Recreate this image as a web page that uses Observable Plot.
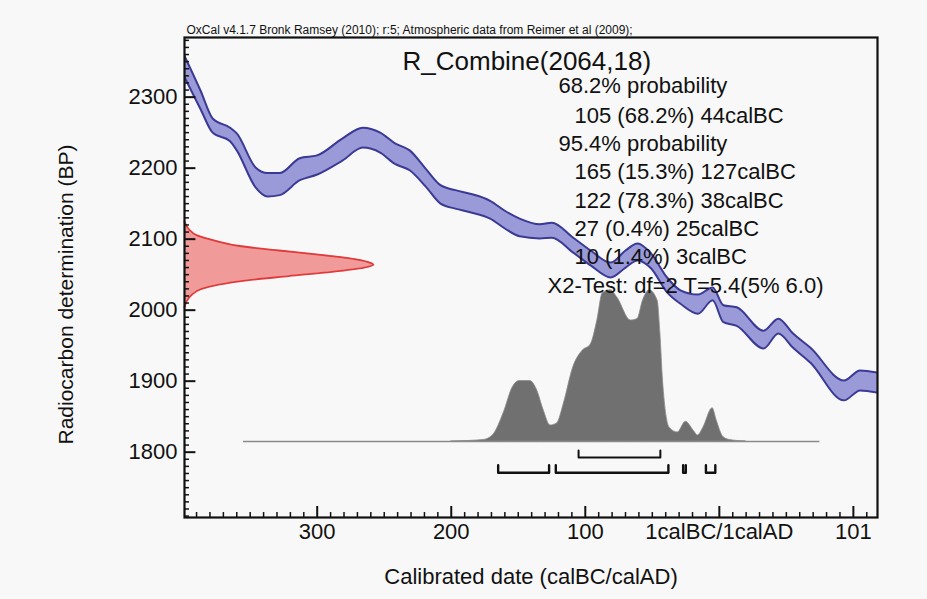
<!DOCTYPE html>
<html><head><meta charset="utf-8">
<script src="https://cdn.jsdelivr.net/npm/d3@7"></script>
<script src="https://cdn.jsdelivr.net/npm/@observablehq/plot@0.6"></script>
<style>
html,body{margin:0;padding:0;background:#f8f8f8;}
#chart svg{display:block;}
</style></head><body><div id="chart"></div>
<script>
// Calibration curve (IntCal09 band), year: negative = BC
const curveYears = [-399,-387,-378,-365,-360,-346,-337,-328,-313,-300,-281,-266,-253,-242,-231,-219,-208,-197,-186,-171,-160,-149,-134,-125,-109,-96,-81,-70,-61,-51,-39,-29,-16,-5,3,13,33,44,55,68,93,105,118];
const curveUpper = [2358,2309,2270,2257,2249,2201,2193,2193,2214,2218,2242,2257,2250,2235,2225,2199,2176,2169,2164,2154,2140,2129,2121,2123,2102,2084,2067,2084,2094,2080,2046,2028,2022,2032,2007,2004,1971,1988,1967,1947,1901,1915,1912];
const curveLower = [2328,2283,2250,2238,2225,2173,2160,2162,2183,2191,2211,2229,2222,2206,2197,2174,2150,2143,2138,2129,2115,2104,2101,2102,2081,2063,2046,2060,2070,2059,2025,2009,1995,2014,1983,1978,1946,1967,1947,1926,1873,1887,1884];

// Radiocarbon likelihood R_Combine(2064,18), relative density
const likeBP = [2125,2115,2105,2098,2090,2084,2078,2072,2066,2064,2060,2054,2048,2042,2036,2030,2022,2012,2004];
const likeDensity = [0,0.02,0.07,0.16,0.3,0.5,0.72,0.9,0.99,1.0,0.95,0.78,0.55,0.33,0.18,0.09,0.04,0.01,0];

// Calibrated posterior, relative probability
const postYears = [-200,-176,-169,-161,-154,-149,-141,-136,-131,-126,-121,-116,-109,-102,-96,-91,-87,-81,-76,-66,-61,-57,-52,-46,-44,-42,-37,-31,-25,-19,-16,-12,-5,-2,3,8,20];
const postProb = [0,0.01,0.04,0.185,0.36,0.40,0.40,0.34,0.205,0.106,0.12,0.25,0.49,0.60,0.64,0.80,0.98,1.0,0.95,0.80,0.81,0.93,1.0,0.93,0.72,0.40,0.09,0.06,0.13,0.07,0.04,0.09,0.22,0.14,0.03,0.01,0];

// Ranges
const range68 = [[-105,-44]];
const range95 = [[-165,-127],[-122,-38],[-27,-25],[-10,-3]];

// Axis ticks
const yTickValues = [1800,1900,2000,2100,2200,2300];
const xTickValues = [-300,-200,-100,0,100];
const xTickLabels = ["300","200","100","1calBC/1calAD","101"];

// Texts
const headerText = "OxCal v4.1.7 Bronk Ramsey (2010); r:5; Atmospheric data from Reimer et al (2009);";
const titleText = "R_Combine(2064,18)";
const resultLines = ["68.2% probability","105 (68.2%) 44calBC","95.4% probability","165 (15.3%) 127calBC","122 (78.3%) 38calBC","27 (0.4%) 25calBC","10 (1.4%) 3calBC","X2-Test: df=2 T=5.4(5% 6.0)"];
const yLabel = "Radiocarbon determination (BP)";
const xLabel = "Calibrated date (calBC/calAD)";

// ---- layout ----
const X0 = -399, X1 = 118, Y0 = 1708, Y1 = 2384;
const FONT = "'Liberation Sans', Arial, Helvetica, sans-serif";
const curve = curveYears.map((y,i)=>({year:y, hi:curveUpper[i], lo:curveLower[i]}));
const like = likeBP.map((b,i)=>({bp:b, p:likeDensity[i]}));
const post = postYears.map((y,i)=>({year:y, p:postProb[i]}));
const LIKE_W = 141;   // years for full density
const POST_BASE = 1815, POST_H = 213;
const bracketPath = (ranges, top, bot) => ranges.flatMap((r,i)=>[
  {x:r[0], y:top, z:i},{x:r[0], y:bot, z:i},{x:r[1], y:bot, z:i},{x:r[1], y:top, z:i}]);
const b68 = bracketPath(range68, 1802.5, 1792.5);
const b95 = bracketPath(range95, 1781.5, 1771);
const yMinor = d3.range(1710, 2384, 10).filter(v=>v%100!==0);
const xMinor = d3.range(-390, 118, 10).filter(v=>v%100!==0);

const resX = [558,574,558,574,574,574,574,547];
const resY = [92,122,150,178,207,235,263,292];
const resData = resultLines.map((t,i)=>({t, dx:resX[i]-184, dy:resY[i]-37}));

const chart = Plot.plot({
  width: 927, height: 599,
  marginLeft: 184, marginRight: 50, marginTop: 37, marginBottom: 82,
  style: {fontFamily: FONT, background: "#f8f8f8", overflow: "visible"},
  x: {domain: [X0, X1], axis: null},
  y: {domain: [Y0, Y1], axis: null},
  marks: [
    // calibration band
    Plot.areaY(curve, {x:"year", y1:"lo", y2:"hi", fill:"#9a9ad8", curve:"monotone-x", clip:true}),
    Plot.lineY(curve, {x:"year", y:"hi", stroke:"#3a3a96", strokeWidth:2, curve:"monotone-x", clip:true}),
    Plot.lineY(curve, {x:"year", y:"lo", stroke:"#3a3a96", strokeWidth:2, curve:"monotone-x", clip:true}),
    // likelihood
    Plot.areaX(like, {y:"bp", x1:X0, x2:d=>X0 + d.p*LIKE_W, fill:"#f09a9a", curve:"monotone-y"}),
    Plot.lineX(like, {y:"bp", x:d=>X0 + d.p*LIKE_W, stroke:"#e03a3a", strokeWidth:1.8, curve:"monotone-y"}),
    // posterior
    Plot.ruleY([POST_BASE], {x1:-355, x2:75, stroke:"#8a8a8a", strokeWidth:1.5}),
    Plot.areaY(post, {x:"year", y1:POST_BASE, y2:d=>POST_BASE + d.p*POST_H, fill:"#707070", stroke:"#8a8a8a", strokeWidth:0.8, curve:"monotone-x"}),
    // ranges
    Plot.line(b68, {x:"x", y:"y", z:"z", stroke:"#111", strokeWidth:2}),
    Plot.line(b95, {x:"x", y:"y", z:"z", stroke:"#111", strokeWidth:2.4}),
    // ticks
    Plot.ruleY(yMinor, {y:d=>d, x1:X0, x2:X0+3.7, stroke:"#111", strokeWidth:1.5}),
    Plot.ruleY(yTickValues, {y:d=>d, x1:X0, x2:X0+8.5, stroke:"#111", strokeWidth:2}),
    Plot.ruleX(xMinor, {x:d=>d, y1:Y0, y2:Y0+7, stroke:"#111", strokeWidth:1.5}),
    Plot.ruleX(xTickValues, {x:d=>d, y1:Y0, y2:Y0+15.5, stroke:"#111", strokeWidth:2}),
    Plot.frame({stroke:"#111", strokeWidth:2.2}),
    // tick labels
    Plot.text(yTickValues, {y:d=>d, frameAnchor:"left", dx:-7, textAnchor:"end", lineAnchor:"middle", text:d=>String(d), fontSize:22, fill:"#111"}),
    Plot.text(xTickValues, {x:d=>d, frameAnchor:"bottom", dy:21, lineAnchor:"bottom", text:(d,i)=>xTickLabels[i], fontSize:22, fill:"#111"}),
    // axis titles
    Plot.text([yLabel], {frameAnchor:"left", dx:-118, dy:17, rotate:-90, textAnchor:"middle", lineAnchor:"middle", text:d=>d, fontSize:21, fill:"#111"}),
    Plot.text([xLabel], {frameAnchor:"bottom", dy:66, lineAnchor:"bottom", textAnchor:"middle", text:d=>d, fontSize:22, fill:"#111"}),
    // header, title, results
    Plot.text([headerText], {frameAnchor:"top-left", dx:2, dy:-4, lineAnchor:"bottom", textAnchor:"start", text:d=>d, fontSize:12, fill:"#111"}),
    Plot.text([titleText], {frameAnchor:"top-left", dx:402-184, dy:69-37, lineAnchor:"bottom", textAnchor:"start", text:d=>d, fontSize:26, fill:"#111"}),
    ...resData.map(r => Plot.text([r], {frameAnchor:"top-left", dx:r.dx, dy:r.dy, lineAnchor:"bottom", textAnchor:"start", text:"t", fontSize:22, fill:"#111"}))
  ]
});
document.getElementById("chart").appendChild(chart);
</script></body></html>
